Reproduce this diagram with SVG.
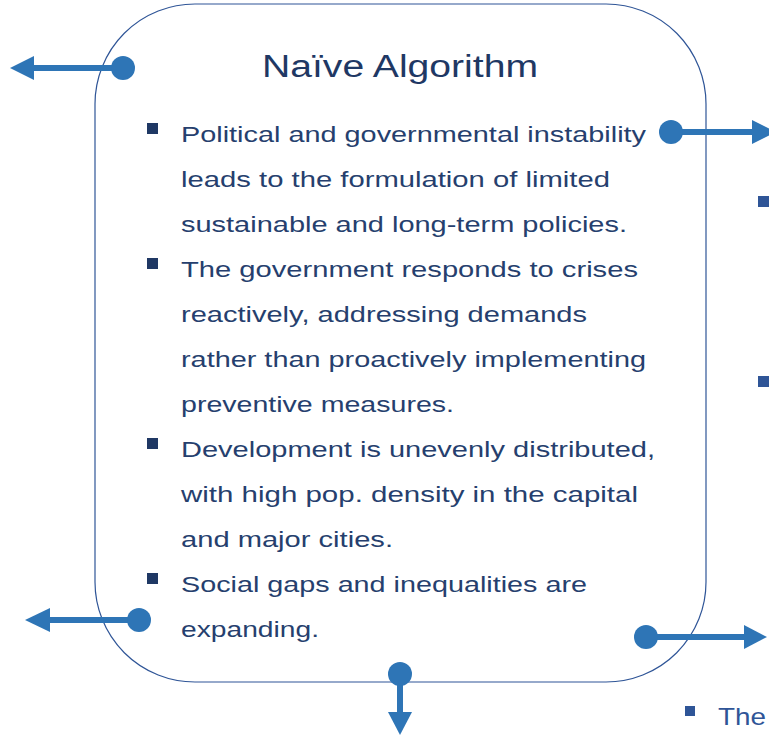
<svg xmlns="http://www.w3.org/2000/svg" width="769" height="736" viewBox="0 0 769 736">
<defs>
<style>
.box{fill:#fff;stroke:#2f5597;stroke-width:1.2}
.title{font-family:"Liberation Sans",Arial,sans-serif;font-size:31px;fill:#1f3864}
.body{font-family:"Liberation Sans",Arial,sans-serif;font-size:22.5px;fill:#263f6e}
.bul{fill:#1f3864}
.bul2{fill:#2f5597}
.conn line{stroke:#2e75b6;stroke-width:6}
.conn circle{fill:#2e75b6}
.conn polygon{fill:#2e75b6}
.side{font-family:"Liberation Sans",Arial,sans-serif;font-size:24px;fill:#2f5597}
</style>
</defs>
<rect x="0" y="0" width="769" height="736" fill="#fff"/>
<g id="node-naive">
<rect class="box" x="95" y="4" width="611" height="678" rx="100" ry="100"/>
<text class="title" x="262" y="77" textLength="276" lengthAdjust="spacingAndGlyphs">Naïve Algorithm</text>
<rect class="bul" x="147" y="123" width="11" height="11"/>
<rect class="bul" x="147" y="258" width="11" height="11"/>
<rect class="bul" x="147" y="438" width="11" height="11"/>
<rect class="bul" x="147" y="573" width="11" height="11"/>
<text class="body" x="181" y="142" textLength="465" lengthAdjust="spacingAndGlyphs">Political and governmental instability</text>
<text class="body" x="181" y="187" textLength="429" lengthAdjust="spacingAndGlyphs">leads to the formulation of limited</text>
<text class="body" x="181" y="232" textLength="446" lengthAdjust="spacingAndGlyphs">sustainable and long-term policies.</text>
<text class="body" x="181" y="277" textLength="457" lengthAdjust="spacingAndGlyphs">The government responds to crises</text>
<text class="body" x="181" y="322" textLength="406" lengthAdjust="spacingAndGlyphs">reactively, addressing demands</text>
<text class="body" x="181" y="367" textLength="465" lengthAdjust="spacingAndGlyphs">rather than proactively implementing</text>
<text class="body" x="181" y="412" textLength="273" lengthAdjust="spacingAndGlyphs">preventive measures.</text>
<text class="body" x="181" y="457" textLength="474" lengthAdjust="spacingAndGlyphs">Development is unevenly distributed,</text>
<text class="body" x="181" y="502" textLength="457" lengthAdjust="spacingAndGlyphs">with high pop. density in the capital</text>
<text class="body" x="181" y="547" textLength="212" lengthAdjust="spacingAndGlyphs">and major cities.</text>
<text class="body" x="181" y="592" textLength="406" lengthAdjust="spacingAndGlyphs">Social gaps and inequalities are</text>
<text class="body" x="181" y="637" textLength="138" lengthAdjust="spacingAndGlyphs">expanding.</text>
</g>
<g id="node-right-partial">
<rect class="bul2" x="758" y="196" width="11" height="11"/>
<rect class="bul2" x="758" y="376" width="11" height="11"/>
</g>
<g id="node-bottom-partial">
<rect class="bul2" x="685" y="706" width="10" height="10"/>
<text class="side" x="718" y="725" textLength="48" lengthAdjust="spacingAndGlyphs">The</text>
</g>
<g id="connectors" class="conn">
<line x1="123" y1="68" x2="32" y2="68"/>
<circle cx="123" cy="68" r="12"/>
<polygon points="10,68 34,56 34,80"/>
<line x1="671" y1="132" x2="754" y2="132"/>
<circle cx="671" cy="132" r="12"/>
<polygon points="776,132 752,120 752,144"/>
<line x1="139" y1="620" x2="48" y2="620"/>
<circle cx="139" cy="620" r="12"/>
<polygon points="25,620 50,608 50,632"/>
<line x1="400" y1="674" x2="400" y2="714"/>
<circle cx="400" cy="674" r="12"/>
<polygon points="400,735 388,712 412,712"/>
<line x1="646" y1="637" x2="746" y2="637"/>
<circle cx="646" cy="637" r="12"/>
<polygon points="767,637 744,625 744,649"/>
</g>
</svg>
